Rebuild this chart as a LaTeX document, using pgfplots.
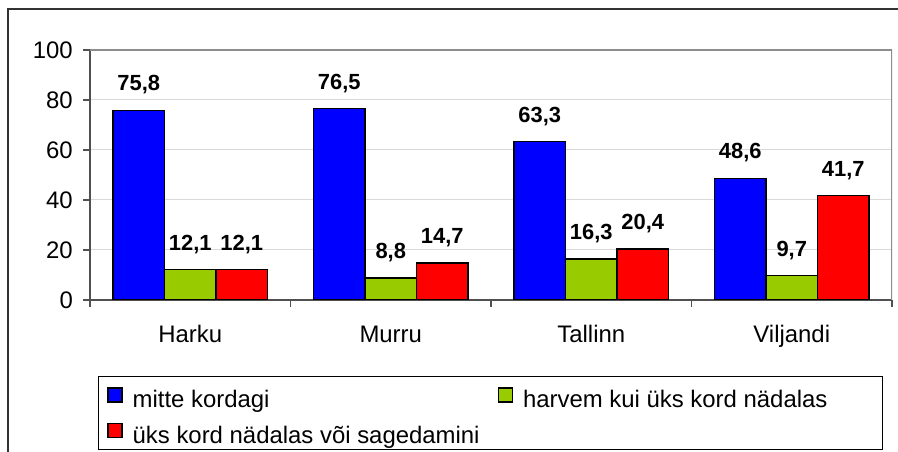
\documentclass[border=0pt]{standalone}
\usepackage{pgfplots}
\pgfplotsset{compat=1.18}
\usepackage{fontspec}
\setmainfont{Liberation Sans}
\definecolor{barblue}{RGB}{0,0,255}
\definecolor{bargreen}{RGB}{153,204,0}
\definecolor{barred}{RGB}{255,0,0}
\definecolor{axisgray}{RGB}{80,80,80}
\definecolor{framegray}{RGB}{140,140,140}
\definecolor{gridgray}{RGB}{217,217,217}
\definecolor{outerframe}{RGB}{50,50,50}
\begin{document}
\begin{tikzpicture}[x=1bp,y=1bp,font=\fontsize{24}{28}\selectfont]
\useasboundingbox (0,0) rectangle (898,452);
\draw[line width=1.5bp, outerframe] (8,-2) -- (8,443) -- (900,443);
\draw[line width=1bp, black] (98,2) rectangle (882,75);
\begin{axis}[
  at={(90bp,152bp)}, anchor=south west,
  width=802bp, height=250bp, scale only axis,
  ybar=0pt, bar width=51.5bp,
  xmin=-0.5, xmax=3.5, ymin=0, ymax=100,
  xtick={-0.5,0.5,1.5,2.5,3.5}, xticklabels={},
  extra x ticks={0,1,2,3},
  extra x tick labels={Harku,Murru,Tallinn,Viljandi},
  extra x tick style={major tick length=0pt, xticklabel style={anchor=base, yshift=-43bp}},
  ytick={0,20,40,60,80,100},
  ymajorgrids, grid style={gridgray, line width=1bp},
  axis x line*=bottom, axis y line*=left,
  axis line style={axisgray, line width=1.5bp},
  tick align=outside, major tick length=7bp,
  tick style={axisgray, line width=1.5bp},
  yticklabel style={anchor=east, inner sep=0pt, xshift=-10bp},
  /pgf/number format/assume math mode=true,
  nodes near coords={\pgfmathprintnumber[fixed,fixed zerofill,precision=1,use comma,assume math mode=true]{\pgfplotspointmeta}},
  every node near coord/.append style={font=\bfseries\fontsize{22}{26}\selectfont, inner sep=0pt, yshift=15.5bp, black},
  legend columns=2,
  legend style={draw=none, fill=none, at={(0.0212,-0.348)}, anchor=north west, inner sep=0pt,
    row sep=10bp, nodes={inner sep=0pt, text height=17bp, text depth=5bp},
    cells={anchor=west},
    /tikz/every odd column/.append style={column sep=10bp},
    /tikz/every even column/.append style={column sep=18bp}},
  legend image code/.code={\draw[#1, draw=black, line width=1.5bp] (0bp,0bp) rectangle (14bp,14bp);},
]
\addplot[fill=barblue, draw=black, line width=1.5bp] coordinates {(0,75.8) (1,76.5) (2,63.3) (3,48.6)};
\addplot[fill=bargreen, draw=black, line width=1.5bp] coordinates {(0,12.1) (1,8.8) (2,16.3) (3,9.7)};
\addplot[fill=barred, draw=black, line width=1.5bp] coordinates {(0,12.1) (1,14.7) (2,20.4) (3,41.7)};
\legend{mitte kordagi, harvem kui üks kord nädalas, üks kord nädalas või sagedamini}
\draw[framegray, line width=1.5bp] (rel axis cs:0,1) -- (rel axis cs:1,1) -- (rel axis cs:1,0);
\end{axis}
\end{tikzpicture}
\end{document}
